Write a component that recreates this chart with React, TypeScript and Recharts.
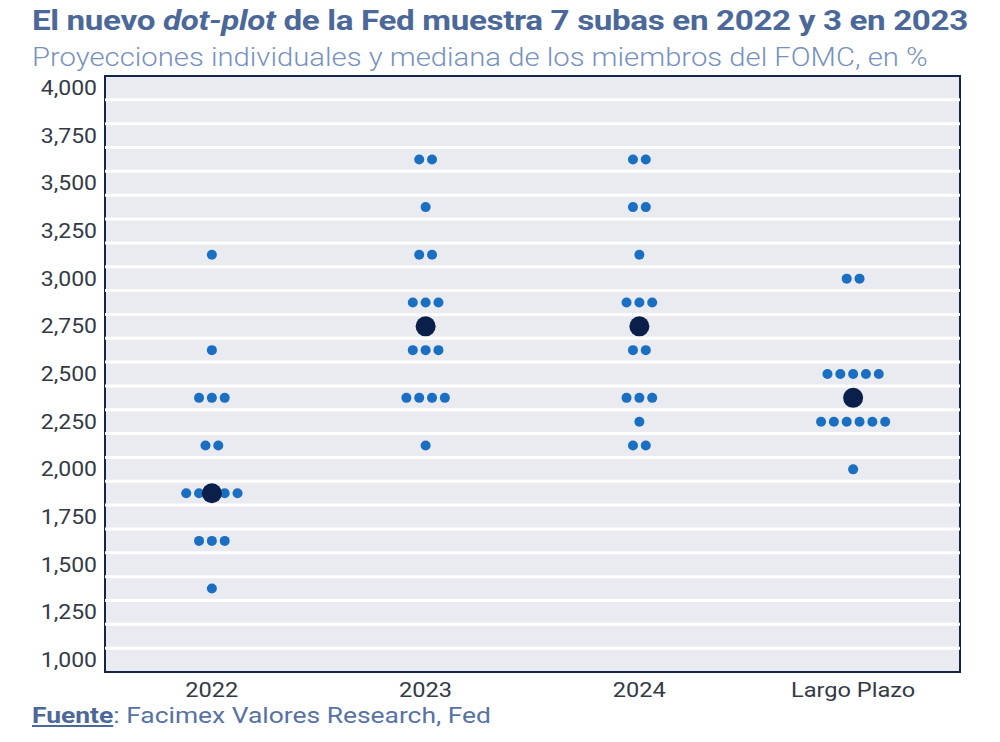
import React from 'react';
import { ScatterChart, Scatter, XAxis, YAxis, ReferenceArea, ReferenceLine } from 'recharts';

const categories = ['2022', '2023', '2024', 'Largo Plazo'];

const rates2022 = [3.125, 2.625, 2.375, 2.125, 1.875, 1.625, 1.375];
const counts2022 = [1, 1, 3, 2, 5, 3, 1];

const rates2023 = [3.625, 3.375, 3.125, 2.875, 2.625, 2.375, 2.125];
const counts2023 = [2, 1, 2, 3, 3, 4, 1];

const rates2024 = [3.625, 3.375, 3.125, 2.875, 2.625, 2.375, 2.25, 2.125];
const counts2024 = [2, 2, 1, 3, 2, 3, 1, 2];

const ratesLP = [3.0, 2.5, 2.25, 2.0];
const countsLP = [2, 5, 6, 1];

const medians = [1.875, 2.75, 2.75, 2.375];

const yTicks = [1, 1.25, 1.5, 1.75, 2, 2.25, 2.5, 2.75, 3, 3.25, 3.5, 3.75, 4];
const xTicks = [0.5, 1.5, 2.5, 3.5];
const gridLines = [
  1.0625, 1.1875, 1.3125, 1.4375, 1.5625, 1.6875, 1.8125, 1.9375, 2.0625, 2.1875, 2.3125, 2.4375,
  2.5625, 2.6875, 2.8125, 2.9375, 3.0625, 3.1875, 3.3125, 3.4375, 3.5625, 3.6875, 3.8125, 3.9375,
];

const Y_MIN = 0.9375;
const Y_MAX = 4.0625;
const DOT_STEP = 0.06;

const groups = [
  { rates: rates2022, counts: counts2022 },
  { rates: rates2023, counts: counts2023 },
  { rates: rates2024, counts: counts2024 },
  { rates: ratesLP, counts: countsLP },
];

const dots: { x: number; y: number }[] = [];
groups.forEach((g, i) => {
  g.rates.forEach((r, k) => {
    const n = g.counts[k];
    for (let j = 0; j < n; j++) {
      dots.push({ x: i + 0.5 + (j - (n - 1) / 2) * DOT_STEP, y: r });
    }
  });
});

const medianDots = medians.map((m, i) => ({ x: i + 0.5, y: m }));

const SmallDot = (props: any) => (
  <circle cx={props.cx} cy={props.cy} r={5} fill="#1b6fc2" />
);
const MedianDot = (props: any) => (
  <circle cx={props.cx} cy={props.cy} r={10} fill="#0b1f4b" />
);

const fmtY = (v: number) => v.toFixed(3).replace('.', ',');
const fmtX = (v: number) => categories[Math.floor(v)] ?? '';

const YTick = (props: any) => {
  const { x, y, payload } = props;
  return (
    <g transform={`translate(${x},${y})`}>
      <text
        transform="scale(1.15,1)"
        textAnchor="end"
        dy="0.35em"
        fill="#333a46"
        fontSize={20}
        fontFamily="Roboto, sans-serif"
      >
        {fmtY(payload.value)}
      </text>
    </g>
  );
};

const XTick = (props: any) => {
  const { x, y, payload } = props;
  return (
    <g transform={`translate(${x},${y})`}>
      <text
        transform="scale(1.18,1)"
        textAnchor="middle"
        dy="0.75em"
        fill="#333a46"
        fontSize={20}
        fontFamily="Roboto, sans-serif"
      >
        {fmtX(payload.value)}
      </text>
    </g>
  );
};

export default function App() {
  return (
    <div
      style={{
        position: 'absolute',
        left: 0,
        top: 0,
        width: 1000,
        height: 742,
        background: '#ffffff',
        fontFamily: 'Roboto, sans-serif',
        overflow: 'hidden',
      }}
    >
      <div
        style={{
          position: 'absolute',
          left: 32,
          top: 4,
          fontSize: 28,
          fontWeight: 700,
          color: '#4b6898',
          whiteSpace: 'nowrap',
          letterSpacing: -0.3,
          transform: 'scaleX(1.185)',
          transformOrigin: 'left top',
        }}
      >
        El nuevo <i>dot-plot</i> de la Fed muestra 7 subas en 2022 y 3 en 2023
      </div>
      <div
        style={{
          position: 'absolute',
          left: 32,
          top: 42,
          fontSize: 26,
          fontWeight: 300,
          color: '#7892bf',
          whiteSpace: 'nowrap',
          transform: 'scaleX(1.125)',
          transformOrigin: 'left top',
        }}
      >
        Proyecciones individuales y mediana de los miembros del FOMC, en %
      </div>
      <div style={{ position: 'absolute', left: 0, top: 0 }}>
        <ScatterChart
          width={1000}
          height={742}
          margin={{ top: 76, right: 40, bottom: 40, left: 25 }}
        >
          <XAxis
            type="number"
            dataKey="x"
            domain={[0, 4]}
            ticks={xTicks}
            tickFormatter={fmtX}
            axisLine={false}
            tickLine={false}
            height={30}
            tick={<XTick />}
            tickMargin={4}
            allowDataOverflow
          />
          <YAxis
            type="number"
            dataKey="y"
            domain={[Y_MIN, Y_MAX]}
            ticks={yTicks}
            tickFormatter={fmtY}
            axisLine={false}
            tickLine={false}
            width={80}
            tick={<YTick />}
            allowDataOverflow
            interval={0}
          />
          <ReferenceArea
            x1={0}
            x2={4}
            y1={Y_MIN}
            y2={Y_MAX}
            fill="#e9ebf0"
            fillOpacity={1}
            stroke="none"
            ifOverflow="visible"
          />
          {gridLines.map((g) => (
            <ReferenceLine key={g} y={g} stroke="#ffffff" strokeWidth={3} />
          ))}
          <ReferenceArea
            x1={0}
            x2={4}
            y1={Y_MIN}
            y2={Y_MAX}
            fill="none"
            stroke="#14254a"
            strokeWidth={2}
            ifOverflow="visible"
          />
          <Scatter data={dots} shape={SmallDot} isAnimationActive={false} />
          <Scatter data={medianDots} shape={MedianDot} isAnimationActive={false} />
        </ScatterChart>
      </div>
      <div
        style={{
          position: 'absolute',
          left: 32,
          top: 703,
          fontSize: 22,
          color: '#5873a3',
          whiteSpace: 'nowrap',
          transform: 'scaleX(1.2)',
          transformOrigin: 'left top',
        }}
      >
        <span style={{ fontWeight: 700, textDecoration: 'underline', color: '#4b6898' }}>Fuente</span>
        : Facimex Valores Research, Fed
      </div>
    </div>
  );
}
